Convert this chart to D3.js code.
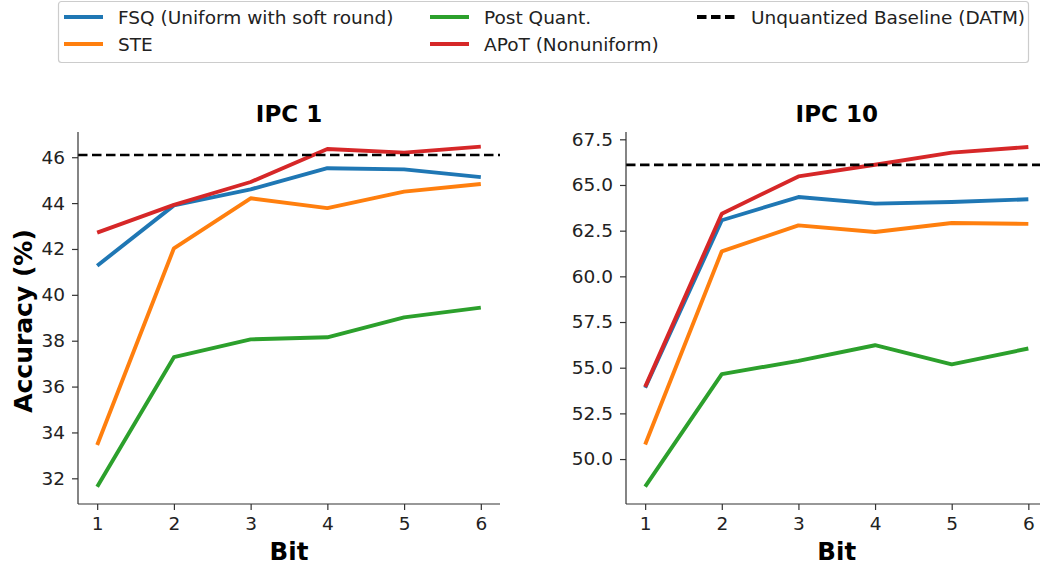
<!DOCTYPE html>
<html>
<head>
<meta charset="utf-8">
<script src="https://cdn.jsdelivr.net/npm/d3@7"></script>
<style>
  body { margin: 0; background: #fff; }
  text { font-family: "DejaVu Sans", sans-serif; }
</style>
</head>
<body>
<script>
var width = 1040, height = 565

var bits = [1, 2, 3, 4, 5, 6]

// IPC 1
var fsq1  = [41.27, 43.90, 44.60, 45.52, 45.47, 45.13]
var ste1  = [33.45, 42.03, 44.21, 43.78, 44.50, 44.83]
var post1 = [31.63, 37.28, 38.06, 38.15, 39.02, 39.44]
var apot1 = [42.71, 43.92, 44.92, 46.36, 46.20, 46.46]
var base1 = 46.1
var yTicks1 = [32, 34, 36, 38, 40, 42, 44, 46]

// IPC 10
var fsq10  = [53.90, 63.07, 64.34, 63.98, 64.07, 64.22]
var ste10  = [50.80, 61.37, 62.79, 62.43, 62.92, 62.87]
var post10 = [48.49, 54.65, 55.37, 56.23, 55.18, 56.05]
var apot10 = [53.95, 63.43, 65.47, 66.11, 66.77, 67.08]
var base10 = 66.1
var yTicks10 = [50, 52.5, 55, 57.5, 60, 62.5, 65, 67.5]

var names = ["FSQ (Uniform with soft round)", "STE", "Post Quant.", "APoT (Nonuniform)"]
var colors = ["#1f77b4", "#ff7f0e", "#2ca02c", "#d62728"]

var svg = d3.select("body").append("svg")
    .attr("width", width)
    .attr("height", height)

var panels = [
  { title: "IPC 1", left: 78, right: 500, top: 132, bottom: 504, ydom: [30.88, 47.1],
    series: [fsq1, ste1, post1, apot1], base: base1, ticks: yTicks1, fmt: d3.format("d"), ylab: true },
  { title: "IPC 10", left: 626, right: 1047.5, top: 132, bottom: 504, ydom: [47.54, 67.9],
    series: [fsq10, ste10, post10, apot10], base: base10, ticks: yTicks10, fmt: d3.format(".1f"), ylab: false }
]

panels.forEach(function(p) {
  var x = d3.scaleLinear().domain([0.75, 6.25]).range([p.left, p.right])
  var y = d3.scaleLinear().domain(p.ydom).range([p.bottom, p.top])
  var g = svg.append("g")

  var line = d3.line()
      .x(function(d, i) { return x(bits[i]) })
      .y(function(d) { return y(d) })

  p.series.forEach(function(s, k) {
    g.append("path")
      .datum(s)
      .attr("d", line)
      .attr("fill", "none")
      .attr("stroke", colors[k])
      .attr("stroke-width", 3.9)
      .attr("stroke-linejoin", "round")
  })

  //baseline
  g.append("line")
    .attr("x1", p.left).attr("x2", p.right)
    .attr("y1", y(p.base)).attr("y2", y(p.base))
    .attr("stroke", "#000")
    .attr("stroke-width", 2.6)
    .attr("stroke-dasharray", "9.5,4.5")

  var xa = g.append("g")
    .attr("transform", "translate(0," + p.bottom + ")")
    .call(d3.axisBottom(x).tickValues(bits).tickSize(6).tickPadding(7).tickFormat(d3.format("d")))
  var ya = g.append("g")
    .attr("transform", "translate(" + p.left + ",0)")
    .call(d3.axisLeft(y).tickValues(p.ticks).tickSize(6).tickPadding(7).tickFormat(p.fmt))

  ;[xa, ya].forEach(function(a) {
    a.select(".domain").attr("stroke", "#333").attr("stroke-width", 1.2)
    a.selectAll(".tick line").attr("stroke", "#333").attr("stroke-width", 1.2)
    a.selectAll(".tick text").attr("fill", "#222").style("font-size", "18.5px")
      .style("font-family", "DejaVu Sans, sans-serif")
  })
  xa.select(".domain").attr("d", "M" + p.left + ",0H" + p.right)
  ya.select(".domain").attr("d", "M0," + p.bottom + "V" + p.top)

  g.append("text")
    .text(p.title)
    .attr("x", (p.left + p.right) / 2)
    .attr("y", 122)
    .attr("text-anchor", "middle")
    .style("font-size", "23px")
    .style("font-weight", "bold")

  g.append("text")
    .text("Bit")
    .attr("x", (p.left + p.right) / 2)
    .attr("y", 560)
    .attr("text-anchor", "middle")
    .style("font-size", "24.5px")
    .style("font-weight", "bold")

  if (p.ylab) {
    g.append("text")
      .text("Accuracy (%)")
      .attr("transform", "translate(32," + ((p.top + p.bottom) / 2 + 3) + ") rotate(-90)")
      .attr("text-anchor", "middle")
      .style("font-size", "25px")
      .style("font-weight", "bold")
  }
})

//LEGEND
var legend = svg.append("g")
legend.append("rect")
  .attr("x", 58.5).attr("y", 1.5)
  .attr("width", 970).attr("height", 61)
  .attr("rx", 3)
  .attr("fill", "#fff")
  .attr("stroke", "#ccc")
  .attr("stroke-width", 1.2)

var items = [
  { name: names[0], color: colors[0], col: 0, row: 0 },
  { name: names[1], color: colors[1], col: 0, row: 1 },
  { name: names[2], color: colors[2], col: 1, row: 0 },
  { name: names[3], color: colors[3], col: 1, row: 1 },
  { name: "Unquantized Baseline (DATM)", color: "#000", col: 2, row: 0, dash: true }
]
var colX = [64, 430, 697]

items.forEach(function(it) {
  var lx = colX[it.col], ly = 17 + it.row * 27
  legend.append("line")
    .attr("x1", lx).attr("x2", lx + 39)
    .attr("y1", ly).attr("y2", ly)
    .attr("stroke", it.color)
    .attr("stroke-width", 3.9)
    .attr("stroke-dasharray", it.dash ? "9.5,4.5" : null)
  legend.append("text")
    .text(it.name)
    .attr("x", lx + 54)
    .attr("y", ly + 6.5)
    .style("font-size", "18.5px")
    .attr("fill", "#222")
})
</script>
</body>
</html>
